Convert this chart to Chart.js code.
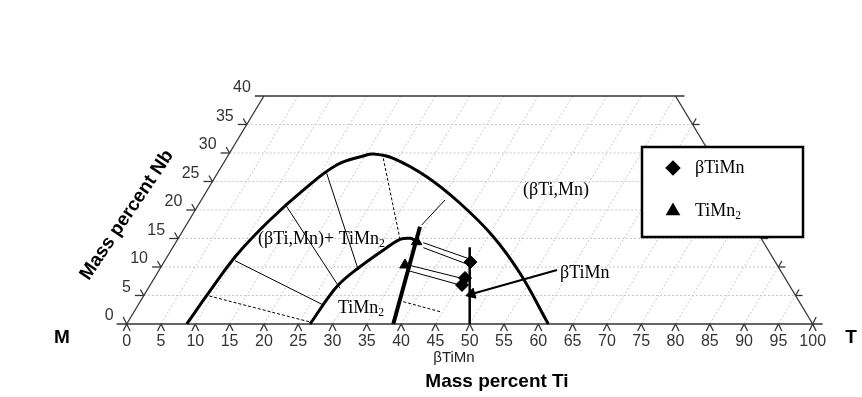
<!DOCTYPE html>
<html>
<head>
<meta charset="utf-8">
<script src="https://cdn.jsdelivr.net/npm/chart.js@4/dist/chart.umd.min.js"></script>
<style>
  body { margin: 0; background: #fff; }
</style>
</head>
<body>
<canvas id="chart" width="862" height="397"></canvas>
<script>
// composition data, mass percent (Ti, Nb); Mn is the rest
const tiTicks = [0, 5, 10, 15, 20, 25, 30, 35, 40, 45, 50, 55, 60, 65, 70, 75, 80, 85, 90, 95, 100];
const nbTicks = [0, 5, 10, 15, 20, 25, 30, 35, 40];

// (βTi,Mn) boundary
const outerTi = [8.75, 9.25, 9.98, 11.76, 13.99, 16.66, 19.75, 21.04, 24.33, 30.81, 38.0, 45.78, 52.89, 61.46];
const outerNb = [0, 5.79, 12.1, 18.25, 23.5, 27.9, 29.47, 29.82, 29.07, 25.84, 21.18, 15.32, 8.89, 0];

// TiMn2 boundary
const innerTi = [26.73, 27.34, 28.99, 31.23, 32.41, 33.78, 34.66];
const innerNb = [0, 6.54, 10.05, 13.42, 14.86, 15.04, 14.74];

const thickTi = [38.86, 34.22];
const thickNb = [0, 17.07];
const vertTi = [50, 43.27];
const vertNb = [0, 13.46];

// tie lines: [ti1, nb1, ti2, nb2, dashed]
const tieLines = [
  [9.59, 4.91, 26.55, 0.35, true],
  [10.24, 11.1, 26.99, 3.33, false],
  [12.55, 21.05, 27.96, 6.26, false],
  [15.93, 26.44, 29.03, 9.47, false],
  [22.87, 29.07, 32.41, 14.86, true],
  [35.53, 21.75, 34.32, 17.37, false],
  [38.37, 3.91, 44.59, 2.16, true]
];
// paired lines between measured phases
const pairLines = [
  [36.11, 14.26, 43.94, 11.53],
  [36.55, 13.39, 44.3, 10.53],
  [35.87, 10.35, 44.82, 8.02],
  [36.37, 9.35, 45.17, 6.84]
];

const betaTi = [44.68, 45.28, 45.46];
const betaNb = [10.88, 8.07, 6.84];
const lavesTi = [35.05, 35.39];
const lavesNb = [14.44, 10.35];
const arrowTi = [58.0, 47.66];
const arrowNb = [9.47, 5.26];

const pts = (ti, nb) => ti.map((t, i) => ({ x: t + nb[i] / 2, y: nb[i] }));

const lineSet = (data, width, dash) => ({
  data, showLine: true, borderColor: '#000', borderWidth: width,
  borderDash: dash || [], pointRadius: 0, tension: 0, fill: false
});

const datasets = [
  { data: pts(betaTi, betaNb), pointStyle: 'rectRot', pointRadius: 6.5,
    backgroundColor: '#000', borderColor: '#000', showLine: false },
  { data: pts(lavesTi, lavesNb), pointStyle: 'triangle', pointRadius: 6,
    backgroundColor: '#000', borderColor: '#000', showLine: false },
  { data: pts(arrowTi.slice(1), arrowNb.slice(1)), pointStyle: 'triangle', pointRadius: 6,
    rotation: -106, backgroundColor: '#000', borderColor: '#000', showLine: false },
  lineSet(pts(arrowTi, arrowNb), 2),
  Object.assign(lineSet(pts(outerTi, outerNb), 3), { tension: 0.4 }),
  Object.assign(lineSet(pts(innerTi, innerNb), 3), { tension: 0.35 }),
  lineSet(pts(thickTi, thickNb), 4),
  lineSet(pts(vertTi, vertNb), 2.5)
];
tieLines.forEach(s => datasets.push(lineSet(pts([s[0], s[2]], [s[1], s[3]]), 1, s[4] ? [3, 2] : [])));
pairLines.forEach(s => datasets.push(lineSet(pts([s[0], s[2]], [s[1], s[3]]), 1)));

function chem(ctx, text, sub, x, y, size, family, align) {
  ctx.font = size + 'px ' + family;
  const w1 = ctx.measureText(text).width;
  ctx.font = (size * 0.65) + 'px ' + family;
  const w2 = sub ? ctx.measureText(sub).width : 0;
  let x0 = x;
  if (align === 'center') x0 = x - (w1 + w2) / 2;
  ctx.textAlign = 'left';
  ctx.textBaseline = 'alphabetic';
  ctx.font = size + 'px ' + family;
  ctx.fillText(text, x0, y);
  if (sub) {
    ctx.font = (size * 0.65) + 'px ' + family;
    ctx.fillText(sub, x0 + w1, y + size * 0.18);
  }
}

const ternaryFrame = {
  id: 'ternaryFrame',
  beforeDatasetsDraw(chart) {
    const ctx = chart.ctx, xs = chart.scales.x, ys = chart.scales.y;
    const P = (ti, nb) => ({ x: xs.getPixelForValue(ti + nb / 2), y: ys.getPixelForValue(nb) });
    const seg = (a, b) => { ctx.beginPath(); ctx.moveTo(a.x, a.y); ctx.lineTo(b.x, b.y); ctx.stroke(); };
    ctx.save();
    // grid
    ctx.strokeStyle = '#c8c8c8';
    ctx.lineWidth = 1;
    ctx.setLineDash([2, 2]);
    nbTicks.filter(n => n > 0 && n < 40).forEach(n => seg(P(0, n), P(100 - n, n)));
    tiTicks.filter(t => t > 0 && t < 100).forEach(t => seg(P(t, 0), P(t, Math.min(40, 100 - t))));
    ctx.setLineDash([]);
    // frame
    ctx.strokeStyle = '#333';
    ctx.lineWidth = 1.3;
    const o = P(0, 0), e = P(100, 0), tl = P(0, 40), tr = P(60, 40);
    seg({ x: o.x - 10, y: o.y }, { x: e.x + 10, y: e.y });
    seg({ x: tl.x - 9, y: tl.y }, { x: tr.x + 9, y: tr.y });
    seg(o, tl);
    seg(e, tr);
    // ticks
    tiTicks.forEach(t => {
      const p = P(t, 0);
      seg(p, { x: p.x - 3.5, y: p.y + 7 });
      seg(p, { x: p.x + 3.5, y: p.y + 7 });
    });
    seg(o, { x: o.x - 3.5, y: o.y - 7 });
    seg(e, { x: e.x + 3.5, y: e.y - 7 });
    nbTicks.filter(n => n > 0 && n < 40).forEach(n => {
      const l = P(0, n), r = P(100 - n, n);
      seg(l, { x: l.x - 9, y: l.y });
      seg(l, { x: l.x - 3.5, y: l.y - 6 });
      seg(r, { x: r.x + 7, y: r.y });
      seg(r, { x: r.x + 3.5, y: r.y - 6 });
    });
    // tick labels
    ctx.fillStyle = '#333';
    ctx.font = '16px "Liberation Sans", Arial, sans-serif';
    ctx.textAlign = 'center';
    ctx.textBaseline = 'middle';
    tiTicks.forEach(t => { const p = P(t, 0); ctx.fillText(String(t), p.x, p.y + 18); });
    ctx.textAlign = 'right';
    nbTicks.forEach(n => { const p = P(0, n); ctx.fillText(String(n), p.x - 13, p.y - 8); });
    ctx.restore();
  },
  afterDatasetsDraw(chart) {
    const ctx = chart.ctx;
    const serif = '"Liberation Serif", "Times New Roman", serif';
    const sans = '"Liberation Sans", Arial, sans-serif';
    ctx.save();
    ctx.fillStyle = '#000';
    chem(ctx, '(βTi,Mn)', '', 523, 195, 18, serif);
    chem(ctx, '(βTi,Mn)+ TiMn', '2', 258, 244, 18, serif);
    chem(ctx, 'TiMn', '2', 338, 313, 18, serif);
    chem(ctx, 'βTiMn', '', 560, 278, 18, serif);
    ctx.fillStyle = '#222';
    chem(ctx, 'βTiMn', '', 454, 362, 15, sans, 'center');
    ctx.fillStyle = '#000';
    ctx.font = 'bold 19px "Liberation Sans", Arial, sans-serif';
    ctx.textAlign = 'center';
    ctx.textBaseline = 'middle';
    ctx.fillText('Mass percent Ti', 497, 382);
    ctx.fillText('M', 62, 338);
    ctx.fillText('T', 851, 338);
    ctx.save();
    ctx.translate(127, 215);
    ctx.rotate(-56 * Math.PI / 180);
    ctx.fillText('Mass percent Nb', 0, 0);
    ctx.restore();
    // legend
    ctx.fillStyle = '#fff';
    ctx.fillRect(642, 147, 161, 90);
    ctx.lineWidth = 2.5;
    ctx.strokeStyle = '#000';
    ctx.strokeRect(642, 147, 161, 90);
    ctx.fillStyle = '#000';
    Chart.helpers.drawPoint(ctx, { pointStyle: 'rectRot', radius: 6, borderWidth: 1, rotation: 0 }, 673, 168);
    ctx.fill();
    Chart.helpers.drawPoint(ctx, { pointStyle: 'triangle', radius: 6, borderWidth: 1, rotation: 0 }, 673, 211);
    ctx.fill();
    chem(ctx, 'βTiMn', '', 695, 173, 18, serif);
    chem(ctx, 'TiMn', '2', 695, 216, 18, serif);
    ctx.restore();
  }
};

new Chart(document.getElementById('chart'), {
  type: 'scatter',
  data: { datasets },
  options: {
    responsive: false,
    animation: false,
    layout: { padding: 0, autoPadding: false },
    plugins: { legend: { display: false }, tooltip: { enabled: false } },
    scales: {
      x: { type: 'linear', min: -18.47, max: 107.19, display: false },
      y: { type: 'linear', min: -12.81, max: 56.84, display: false }
    }
  },
  plugins: [ternaryFrame]
});
</script>
</body>
</html>
